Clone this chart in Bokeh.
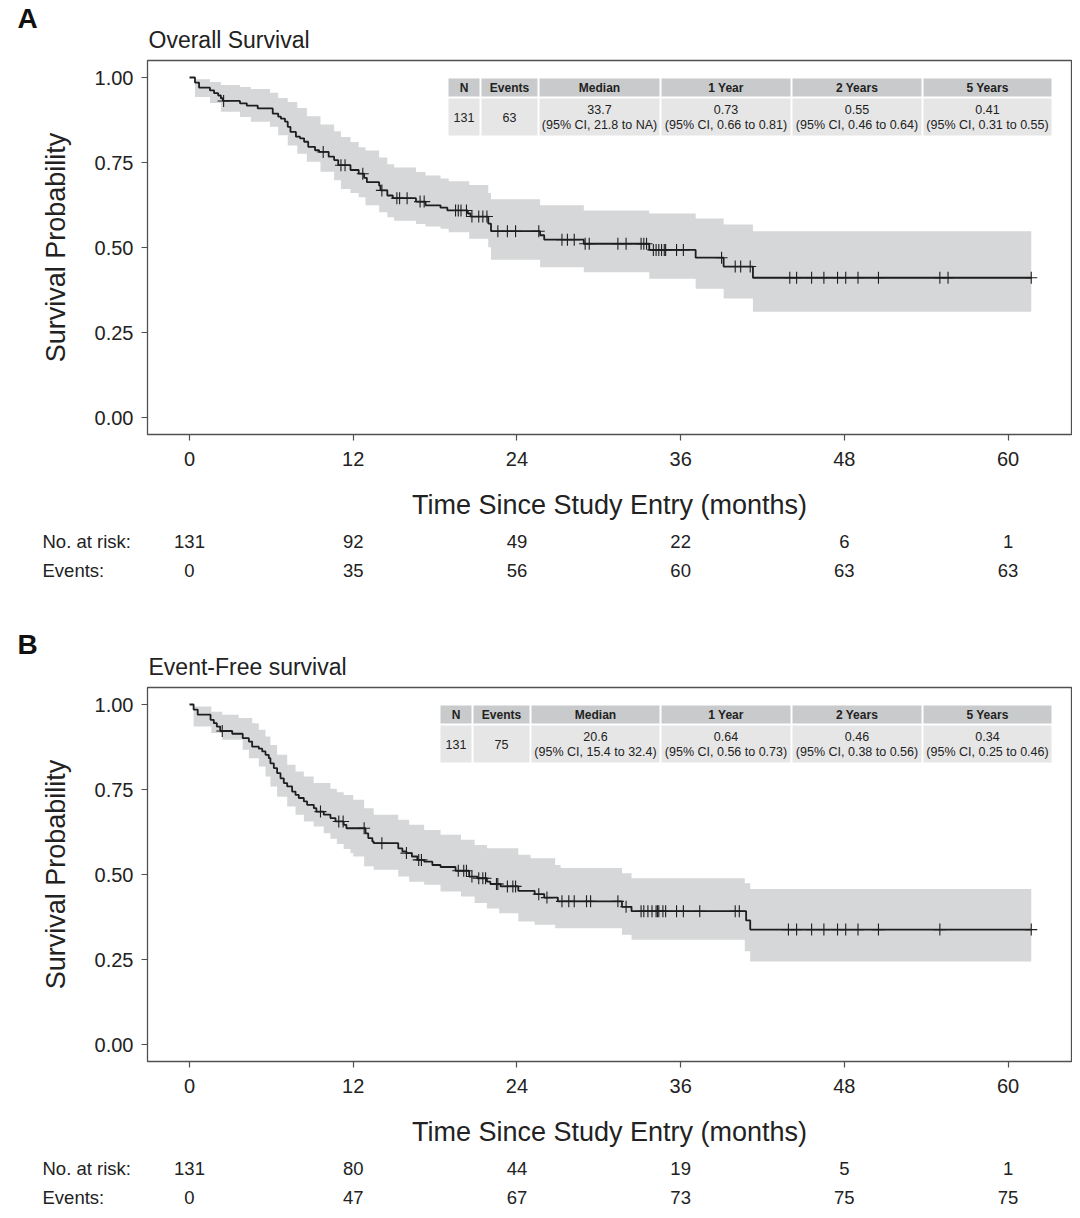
import numpy as np
from bokeh.plotting import figure
from bokeh.models import FixedTicker, NumeralTickFormatter, Range1d
from bokeh.layouts import column
from bokeh.core.properties import value
from bokeh.embed import file_html
from bokeh.resources import INLINE

# ---------------- data ----------------
month_ticks = [0, 12, 24, 36, 48, 60]
surv_ticks = [0.0, 0.25, 0.50, 0.75, 1.0]

# Panel A: overall survival
os_time = [0, 0.4, 0.7, 1.5, 1.8, 2.1, 2.3, 2.45, 3.7, 4.2, 5.0, 6.1, 6.5, 6.7, 7.0, 7.2, 7.4, 7.8, 8.1, 8.4,
           8.7, 9.2, 9.5, 10.2, 10.6, 10.9, 11.8, 12.4, 12.8, 13.0, 13.9, 14.0, 14.5, 14.9, 16.6, 17.3, 18.4,
           18.9, 20.4, 20.6, 21.9, 22.1, 25.7, 26.0, 28.9, 33.7, 37.1, 39.15, 41.3]
os_surv = [1.0, 0.985, 0.970, 0.962, 0.954, 0.947, 0.939, 0.931, 0.924, 0.917, 0.909, 0.894, 0.885, 0.879, 0.870,
           0.855, 0.840, 0.826, 0.821, 0.811, 0.796, 0.786, 0.781, 0.767, 0.757, 0.742, 0.728, 0.717, 0.705, 0.692,
           0.682, 0.668, 0.653, 0.645, 0.635, 0.624, 0.617, 0.609, 0.600, 0.591, 0.570, 0.548, 0.536, 0.523, 0.511,
           0.493, 0.470, 0.444, 0.411]
os_censor = [2.5, 9.8, 11.1, 11.4, 12.7, 14.1, 15.2, 15.4, 15.95, 16.9, 17.2, 19.5, 19.7, 19.9, 20.3, 20.7, 21.2,
             21.5, 21.8, 22.6, 23.3, 23.9, 25.6, 27.3, 27.7, 28.2, 29.0, 29.3, 31.4, 32.0, 33.1, 33.3, 33.5, 34.0,
             34.2, 34.4, 34.6, 34.8, 34.9, 35.7, 36.2, 39.0, 40.0, 40.4, 41.1, 44.0, 44.5, 45.6, 46.5, 47.5, 48.1,
             49.0, 50.5, 55.0, 55.6, 61.7]
os_ci_time = [0, 0.4, 1.5, 2.3, 3.7, 4.5, 5.9, 6.5, 7.2, 7.9, 8.6, 9.6, 10.6, 11.1, 11.8, 12.4, 12.9, 13.9, 14.5,
              15.0, 16.6, 17.3, 18.4, 19.0, 20.5, 21.9, 22.1, 25.7, 28.9, 33.7, 37.1, 39.15, 41.3]
os_ci_upper = [1.0, 0.995, 0.987, 0.978, 0.972, 0.966, 0.955, 0.940, 0.928, 0.910, 0.886, 0.862, 0.842, 0.825,
               0.810, 0.795, 0.785, 0.765, 0.745, 0.735, 0.722, 0.712, 0.703, 0.695, 0.684, 0.660, 0.642, 0.624,
               0.609, 0.600, 0.585, 0.568, 0.548]
os_ci_lower = [1.0, 0.943, 0.925, 0.899, 0.884, 0.870, 0.855, 0.830, 0.800, 0.776, 0.752, 0.723, 0.698, 0.672,
               0.660, 0.648, 0.624, 0.604, 0.589, 0.579, 0.569, 0.562, 0.555, 0.545, 0.526, 0.501, 0.464, 0.442,
               0.427, 0.408, 0.379, 0.350, 0.311]
os_end = 61.7
os_at_risk = [131, 92, 49, 22, 6, 1]
os_events = [0, 35, 56, 60, 63, 63]
os_row1 = ["131", "63", "33.7", "0.73", "0.55", "0.41"]
os_row2 = ["", "", "(95% CI, 21.8 to NA)", "(95% CI, 0.66 to 0.81)", "(95% CI, 0.46 to 0.64)",
           "(95% CI, 0.31 to 0.55)"]

# Panel B: event-free survival
efs_time = [0, 0.3, 0.6, 1.54, 1.78, 2.0, 2.25, 3.13, 3.9, 4.35, 4.59, 5.08, 5.33, 5.57, 5.81, 5.93, 6.18, 6.42,
            6.67, 6.91, 7.16, 7.52, 7.77, 8.01, 8.38, 8.62, 9.11, 9.3, 9.84, 10.33, 10.7, 11.3, 11.5, 12.9, 13.1,
            13.4, 13.5, 15.3, 15.6, 15.9, 16.3, 16.7, 17.2, 17.8, 18.4, 19.5, 20.5, 21.1, 21.8, 22.05, 22.8, 24.1,
            25.3, 26.0, 27.0, 31.7, 32.4, 40.8, 41.1]
efs_surv = [1.0, 0.985, 0.970, 0.955, 0.945, 0.935, 0.922, 0.914, 0.901, 0.891, 0.876, 0.870, 0.862, 0.852, 0.842,
            0.827, 0.813, 0.798, 0.783, 0.769, 0.759, 0.744, 0.734, 0.725, 0.715, 0.705, 0.695, 0.685, 0.676, 0.666,
            0.656, 0.646, 0.636, 0.621, 0.607, 0.597, 0.592, 0.577, 0.568, 0.563, 0.553, 0.543, 0.538, 0.528, 0.522,
            0.511, 0.494, 0.489, 0.479, 0.472, 0.465, 0.452, 0.442, 0.432, 0.421, 0.405, 0.392, 0.365, 0.338]
efs_censor = [2.4, 9.6, 10.94, 11.26, 12.8, 14.1, 15.9, 16.8, 17.0, 19.7, 20.1, 20.3, 20.7, 21.2, 21.5, 21.7, 22.5,
              22.6, 23.3, 23.7, 23.9, 25.6, 26.2, 27.3, 27.8, 28.2, 29.1, 29.4, 31.4, 32.0, 33.1, 33.3, 33.6, 33.9,
              34.2, 34.3, 34.4, 34.7, 34.9, 35.7, 36.2, 37.4, 40.0, 40.3, 43.9, 44.5, 45.6, 46.5, 47.5, 48.1, 49.0,
              50.5, 55.0, 61.7]
efs_ci_time = [0, 0.3, 1.6, 2.4, 3.6, 3.9, 4.35, 4.6, 5.08, 5.57, 5.93, 6.42, 7.16, 7.77, 8.38, 9.1, 9.84, 10.33,
               10.8, 11.3, 11.8, 12.0, 12.8, 13.5, 15.3, 16.1, 17.2, 18.4, 19.9, 20.9, 21.8, 22.7, 24.1, 25.0, 25.3,
               26.8, 27.2, 31.7, 32.4, 40.7, 41.1]
efs_ci_upper = [1.0, 0.994, 0.979, 0.970, 0.960, 0.960, 0.960, 0.945, 0.926, 0.906, 0.881, 0.852, 0.823, 0.803,
                0.788, 0.769, 0.769, 0.752, 0.742, 0.734, 0.734, 0.720, 0.695, 0.676, 0.661, 0.646, 0.631, 0.617,
                0.602, 0.587, 0.577, 0.577, 0.558, 0.548, 0.548, 0.528, 0.519, 0.504, 0.489, 0.474, 0.457]
efs_ci_lower = [1.0, 0.935, 0.916, 0.896, 0.896, 0.867, 0.842, 0.842, 0.818, 0.788, 0.759, 0.729, 0.700, 0.676,
                0.656, 0.641, 0.621, 0.605, 0.590, 0.575, 0.563, 0.553, 0.524, 0.514, 0.494, 0.479, 0.470, 0.450,
                0.435, 0.416, 0.400, 0.386, 0.362, 0.362, 0.352, 0.342, 0.342, 0.323, 0.308, 0.274, 0.244]
efs_end = 61.7
efs_at_risk = [131, 80, 44, 19, 5, 1]
efs_events = [0, 47, 67, 73, 75, 75]
efs_row1 = ["131", "75", "20.6", "0.64", "0.46", "0.34"]
efs_row2 = ["", "", "(95% CI, 15.4 to 32.4)", "(95% CI, 0.56 to 0.73)", "(95% CI, 0.38 to 0.56)",
            "(95% CI, 0.25 to 0.46)"]

table_header = ["N", "Events", "Median", "1 Year", "2 Years", "5 Years"]
risk_row_labels = ["No. at risk:", "Events:"]

# ---------------- style / layout ----------------
FONT = "Liberation Sans"
INK = "#1e1e1e"
TXT = "#222222"
BAND = "#d5d7d8"
HDR_FILL = "#c8cacb"
BODY_FILL = "#e6e6e6"
FRAME = "#505050"

W = 1072
BL, BR = 147, 1            # frame left/right borders (px)
X0, X1 = -3.08, 64.65
Y0, Y1 = -0.05, 1.05
FRAME_W, FRAME_H = 924, 374
PPX = FRAME_W / (X1 - X0)
PPY = FRAME_H / (Y1 - Y0)


def step_band(t, lo, hi, t_end):
    xs, y1, y2 = [], [], []
    for i in range(len(t)):
        nxt = t[i + 1] if i + 1 < len(t) else t_end
        xs += [t[i], nxt]
        y1 += [lo[i], lo[i]]
        y2 += [hi[i], hi[i]]
    return xs, y1, y2


def blank(height, x_range):
    p = figure(width=W, height=height, x_range=x_range, y_range=Range1d(height, 0),
               output_backend="svg", toolbar_location=None, x_axis_type=None, y_axis_type=None,
               min_border=0, frame_align=False)
    p.grid.visible = False
    p.outline_line_color = None
    p.background_fill_color = "white"
    p.border_fill_color = "white"
    return p


def header(height, letter_y, title_y, letter, title):
    p = blank(height, Range1d(0, W))
    p.text(x=[17], y=[letter_y], text=[letter], text_font=value(FONT), text_font_size="28px",
           text_font_style="bold", text_align="left", text_baseline="middle", text_color="#111111")
    p.text(x=[148], y=[title_y], text=[title], text_font=value(FONT), text_font_size="23px",
           text_align="left", text_baseline="middle", text_color=TXT)
    return p


def risk_table(height, at_risk, events):
    xr = Range1d(X0 - BL / PPX, X1 + BR / PPX)
    p = blank(height, xr)
    lab_x = X0 - (BL - 42) / PPX
    p.text(x=[lab_x, lab_x], y=[16, 45], text=risk_row_labels, text_font=value(FONT),
           text_font_size="18.5px", text_align="left", text_baseline="middle", text_color=TXT)
    p.text(x=month_ticks, y=[16] * len(month_ticks), text=[str(v) for v in at_risk], text_font=value(FONT),
           text_font_size="18.5px", text_align="center", text_baseline="middle", text_color=TXT)
    p.text(x=month_ticks, y=[45] * len(month_ticks), text=[str(v) for v in events], text_font=value(FONT),
           text_font_size="18.5px", text_align="center", text_baseline="middle", text_color=TXT)
    return p


def km_panel(t, s, cens, ci_t, ci_lo, ci_hi, t_end, col_edges, row1, row2):
    top, bottom = 4, 91
    p = figure(width=W, height=top + FRAME_H + bottom, x_range=Range1d(X0, X1), y_range=Range1d(Y0, Y1),
               output_backend="svg", toolbar_location=None, frame_align=False,
               min_border_left=BL, min_border_right=BR, min_border_top=top, min_border_bottom=bottom)

    def dx(px):  # px measured from page left
        return X0 + (px - BL) / PPX

    def dy(off):  # off measured down from the frame top
        return Y1 - off / PPY

    bx, by1, by2 = step_band(ci_t, ci_lo, ci_hi, t_end)
    p.varea(x=bx, y1=by1, y2=by2, fill_color=BAND, fill_alpha=1.0)
    p.step(x=list(t) + [t_end], y=list(s) + [s[-1]], mode="after", line_color=INK, line_width=1.8)

    idx = np.searchsorted(np.array(t), np.array(cens), side="right") - 1
    cy = [s[i] for i in idx]
    p.scatter(x=cens, y=cy, marker="cross", size=12, line_color=INK, line_width=1.1)

    # inset summary table
    lefts = [dx(e + 1) for e in col_edges[:-1]]
    rights = [dx(e - 1) for e in col_edges[1:]]
    p.quad(left=lefts, right=rights, top=dy(18), bottom=dy(36), fill_color=HDR_FILL, line_color=None)
    p.quad(left=lefts, right=rights, top=dy(38), bottom=dy(75), fill_color=BODY_FILL, line_color=None)
    centers = [dx((a + b) / 2) for a, b in zip(col_edges[:-1], col_edges[1:])]
    p.text(x=centers, y=[dy(27.5)] * len(centers), text=table_header,
           text_font=value(FONT), text_font_size="12px", text_font_style="bold",
           text_align="center", text_baseline="middle", text_color=TXT)
    y1s = [dy(56.5) if r2 == "" else dy(49) for r2 in row2]
    p.text(x=centers, y=y1s, text=row1, text_font=value(FONT), text_font_size="12.5px",
           text_align="center", text_baseline="middle", text_color=TXT)
    p.text(x=centers, y=[dy(64)] * len(centers), text=row2, text_font=value(FONT),
           text_font_size="12.5px", text_align="center", text_baseline="middle", text_color=TXT)

    p.xaxis.ticker = FixedTicker(ticks=month_ticks)
    p.yaxis.ticker = FixedTicker(ticks=surv_ticks)
    p.yaxis.formatter = NumeralTickFormatter(format="0.00")
    p.xaxis.axis_label = "Time Since Study Entry (months)"
    p.yaxis.axis_label = "Survival Probability"
    for ax in p.axis:
        ax.axis_line_color = None
        ax.major_tick_line_color = FRAME
        ax.major_tick_line_width = 1.2
        ax.major_tick_out = 6
        ax.major_tick_in = 0
        ax.minor_tick_line_color = None
        ax.major_label_text_font = FONT
        ax.major_label_text_font_size = "20px"
        ax.major_label_text_color = TXT
        ax.axis_label_text_font = FONT
        ax.axis_label_text_font_size = "27px"
        ax.axis_label_text_font_style = "normal"
        ax.axis_label_text_color = TXT
    p.xaxis.major_label_standoff = 11
    p.yaxis.major_label_standoff = 8
    p.xaxis.axis_label_standoff = 21
    p.yaxis.axis_label_standoff = 21
    p.grid.visible = False
    p.outline_line_color = FRAME
    p.outline_line_width = 1.3
    p.background_fill_color = "white"
    p.border_fill_color = "white"
    return p


headA = header(56, 18, 39, "A", "Overall Survival")
mainA = km_panel(os_time, os_surv, os_censor, os_ci_time, os_ci_lower, os_ci_upper, os_end,
                 [447, 480, 538, 660, 791, 922, 1052], os_row1, os_row2)
riskA = risk_table(87, os_at_risk, os_events)
headB = header(71, 32, 54, "B", "Event-Free survival")
mainB = km_panel(efs_time, efs_surv, efs_censor, efs_ci_time, efs_ci_lower, efs_ci_upper, efs_end,
                 [439, 472, 530, 660, 791, 922, 1052], efs_row1, efs_row2)
riskB = risk_table(58, efs_at_risk, efs_events)

layout = column(headA, mainA, riskA, headB, mainB, riskB, spacing=0)
open("out.html", "w").write(file_html(layout, INLINE))
